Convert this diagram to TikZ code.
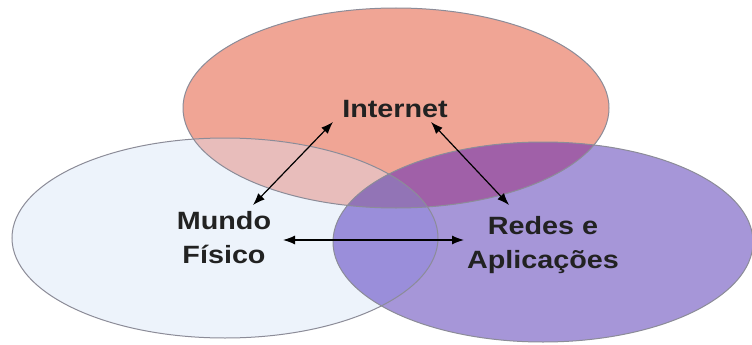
\documentclass[tikz,border=0pt]{standalone}
\usepackage{fontspec}
\setmainfont{Liberation Sans}
\usetikzlibrary{arrows.meta}
\definecolor{cred}{HTML}{F0A595}
\definecolor{cblue}{HTML}{EDF3FB}
\definecolor{cpurp}{HTML}{A696D8}
\definecolor{crb}{HTML}{E8BDBB}
\definecolor{crp}{HTML}{A060A8}
\definecolor{cbp}{HTML}{9A8EDA}
\definecolor{crbp}{HTML}{9274B6}
\definecolor{cedge}{HTML}{8C8C98}
\definecolor{ctext}{HTML}{222222}
\tikzset{
  lbl/.style={inner sep=0pt, text=ctext, font=\fontsize{25}{34}\selectfont\bfseries},
  arr/.style={line width=1.2pt, {Latex[length=12pt,width=9pt]}-{Latex[length=12pt,width=9pt]}},
  ring/.style={draw=cedge, line width=1pt}
}
\newcommand{\ellR}{(396,108) ellipse [x radius=213, y radius=100]}
\newcommand{\ellB}{(225,238) ellipse [x radius=213, y radius=100]}
\newcommand{\ellP}{(543,242) ellipse [x radius=210, y radius=100]}
\begin{document}
\begin{tikzpicture}[x=1pt,y=-1pt]
\useasboundingbox (0,0) rectangle (752,345);
\fill[white] (0,0) rectangle (752,345);
% base fills
\fill[cred] \ellR;
\fill[cblue] \ellB;
\fill[cpurp] \ellP;
% overlaps
\begin{scope}
  \clip \ellR; \fill[crb] \ellB;
\end{scope}
\begin{scope}
  \clip \ellR; \fill[crp] \ellP;
\end{scope}
\begin{scope}
  \clip \ellB; \fill[cbp] \ellP;
\end{scope}
\begin{scope}
  \clip \ellR; \clip \ellB; \fill[crbp] \ellP;
\end{scope}
% outlines
\draw[ring] \ellR;
\draw[ring] \ellB;
\draw[ring] \ellP;
% labels
\node[lbl] (inet) at (395,109) {\scalebox{1.15}[1]{Internet}};
\node[lbl] (mundo) at (224,240) {\scalebox{1.15}[1]{\begin{tabular}{@{}c@{}}Mundo\\Físico\end{tabular}}};
\node[lbl] (redes) at (543,245) {\scalebox{1.15}[1]{\begin{tabular}{@{}c@{}}Redes e\\Aplicações\end{tabular}}};
% arrow ends
\coordinate (iL) at (333,122);
\coordinate (iR) at (431,122);
\coordinate (mT) at (253,205);
\coordinate (mR) at (283,240);
\coordinate (rT) at (509,205);
\coordinate (rL) at (464,240);
\draw[arr] (mT) -- (iL);
\draw[arr] (iR) -- (rT);
\draw[arr] (mR) -- (rL);
\end{tikzpicture}
\end{document}
